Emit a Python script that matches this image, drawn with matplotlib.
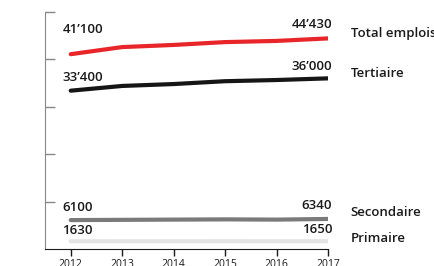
import matplotlib
matplotlib.use('Agg')
import matplotlib.pyplot as plt

# data
years = [2012, 2013, 2014, 2015, 2016, 2017]
total = [41100, 42600, 43050, 43650, 43900, 44430]
tertiaire = [33400, 34400, 34800, 35400, 35650, 36000]
secondaire = [6100, 6150, 6200, 6250, 6200, 6340]
primaire = [1630, 1640, 1640, 1650, 1640, 1650]

names = ['Total emplois', 'Tertiaire', 'Secondaire', 'Primaire']
first_lbl = ['41\u2019100', '33\u2019400', '6100', '1630']
last_lbl = ['44\u2019430', '36\u2019000', '6340', '1650']
colors = ['#e8262a', '#151515', '#7a7a7a', '#e4e4e4']
name_y = [45400, 37100, 7800, 2300]

# label offsets above line, in points
first_off = [13, 5, 4.5, 3]
last_off = [5, 3.5, 5, 3.5]

plt.rcParams.update({'font.family': ['Open Sans', 'DejaVu Sans']})
fig = plt.figure(figsize=(4.34, 2.66), dpi=100)
ax = fig.add_axes([45/434, 17/266, 283/434, 237/266])

series = [total, tertiaire, secondaire, primaire]
for i, s in enumerate(series):
    ax.plot(years, s, color=colors[i], lw=3.0, solid_capstyle='round')
    ax.annotate(first_lbl[i], (years[0], s[0]), xytext=(-6, first_off[i]),
                textcoords='offset points', fontsize=9.5, fontweight='semibold',
                color='#1a1a1a', ha='left', va='bottom')
    ax.annotate(last_lbl[i], (years[-1], s[-1]), xytext=(3, last_off[i]),
                textcoords='offset points', fontsize=9.5, fontweight='semibold',
                color='#1a1a1a', ha='right', va='bottom')
    ax.text(2017.44, name_y[i], names[i], fontsize=9.5, fontweight='semibold',
            color='#1a1a1a', ha='left', va='center', clip_on=False)

ax.set_xlim(2011.5, 2017)
ax.set_ylim(0, 50000)
ax.set_xticks(years)
ax.set_xticklabels([str(y) for y in years], fontsize=7.5, color='#1a1a1a')
ax.set_yticks([10000, 20000, 30000, 40000, 50000])
ax.set_yticklabels([])
ax.tick_params(axis='y', direction='in', length=7, color='#888888', width=1)
ax.tick_params(axis='x', direction='out', length=5, color='#1a1a1a', width=1, pad=2)
for sp in ['top', 'right']:
    ax.spines[sp].set_visible(False)
ax.spines['left'].set_color('#888888')
ax.spines['bottom'].set_color('#1a1a1a')

plt.savefig('out.png', dpi=100)
